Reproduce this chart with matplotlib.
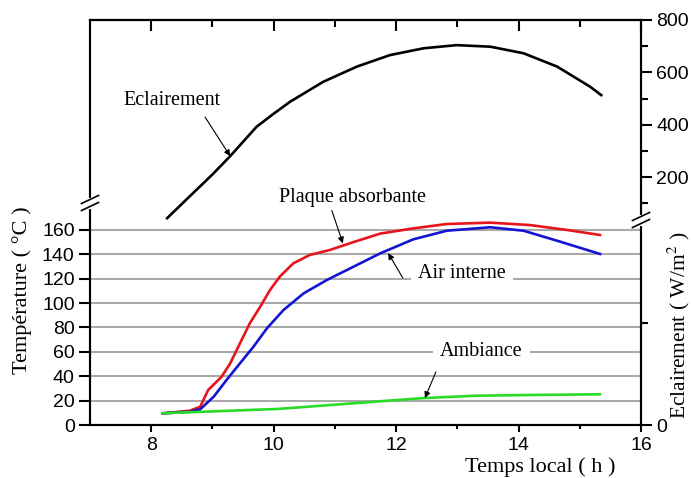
import numpy as np
import matplotlib
matplotlib.use("Agg")
import matplotlib.pyplot as plt

plt.rcParams['font.family'] = ['Liberation Sans', 'DejaVu Sans']
plt.rcParams['mathtext.fontset'] = 'stix'

# eclairement (W/m2)
h_ecl = [8.26, 8.6, 9.0, 9.29, 9.72, 10.0, 10.27, 10.81, 11.36, 11.90, 12.45, 12.99, 13.54, 14.08, 14.63, 15.17, 15.35]
ecl = [43, 120, 210, 280, 392, 442, 488, 564, 622, 666, 692, 704, 698, 673, 622, 545, 513]

# plaque absorbante (C)
h_plaque = [8.19, 8.63, 8.80, 8.93, 9.15, 9.29, 9.45, 9.61, 9.78, 9.94, 10.10, 10.32, 10.59, 10.92,
            11.3, 11.74, 12.28, 12.83, 13.54, 14.19, 14.79, 15.33]
t_plaque = [9.6, 11.7, 15, 28.7, 39.6, 50.6, 67, 83.4, 97, 110.7, 121.7, 132.6, 139.5, 143.6,
            150, 157, 161.3, 164.9, 166, 164, 160, 155.9]

# air interne
h_air = [8.19, 8.63, 8.80, 9.02, 9.23, 9.45, 9.67, 9.89, 10.16, 10.49, 10.87, 11.25, 11.74,
         12.28, 12.83, 13.54, 14.08, 14.68, 15.33]
t_air = [9.6, 10.8, 12.9, 23.2, 36.9, 50.6, 64.2, 79.3, 94.3, 108, 119, 128.5, 140.8,
         152.3, 159.4, 162.2, 159.4, 150.4, 140.3]

# ambiance
h_amb = [8.18, 8.80, 10.08, 11.25, 12.42, 13.29, 14.17, 15.33]
t_amb = [9.6, 10.8, 13.2, 17.6, 22, 24, 24.6, 25.2]

temp_ticks = [0, 20, 40, 60, 80, 100, 120, 140, 160]
ecl_ticks = [0, 200, 400, 600, 800]
x_ticks = [8, 10, 12, 14, 16]

serif = 'Liberation Serif'

fig = plt.figure(figsize=(6.93, 4.78), dpi=100)
ax = fig.add_axes([90/693, 1-425/478, 551/693, 405/478])
ax.set_xlim(7, 16)
ax.set_ylim(0, 405/1.219)

ax.set_yticks(temp_ticks)
ax.set_xticks(x_ticks)
ax.set_xticks([9, 11, 13, 15], minor=True)
ax.tick_params(axis='both', labelsize=14, width=1.5, length=8, pad=3, direction='out')
ax.tick_params(axis='x', length=5, pad=4)
ax.tick_params(axis='x', which='minor', length=3, width=1.5)
ax.grid(axis='y', color='#aaaaaa', lw=1.5)
ax.set_axisbelow(True)
for s in ax.spines.values():
    s.set_linewidth(1.5)

top = ax.secondary_xaxis('top')
top.set_xticks(x_ticks)
top.set_xticks([9, 11, 13, 15], minor=True)
top.tick_params(direction='in', length=8, width=1.5, labeltop=False)
top.tick_params(which='minor', direction='in', length=5, width=1.5)
top.spines['top'].set_linewidth(1.5)

# broken right axis
B = 36.0
def fwd(v):
    v = np.asarray(v, dtype=float)
    return np.where(v < B, v*205/B, 205 + (v-B)*200/(800-B))
def inv(p):
    p = np.asarray(p, dtype=float)
    return np.where(p < 205, p*B/205, B + (p-205)*(800-B)/200)

ax2 = ax.twinx()
ax2.set_yscale('function', functions=(fwd, inv))
ax2.set_ylim(0, 800)
ax2.set_yticks(ecl_ticks)
ax2.set_yticks([B/2, 100, 300, 500, 700], minor=True)
ax2.yaxis.set_minor_formatter(plt.NullFormatter())
ax2.tick_params(axis='y', labelsize=14, width=1.5, length=8, pad=3)
ax2.tick_params(axis='y', which='minor', width=1.5, length=5)
for s in ax2.spines.values():
    s.set_linewidth(1.5)

ax.plot(h_plaque, t_plaque, color='#e8141c', lw=1.9, zorder=3)
ax.plot(h_air, t_air, color='#1414d2', lw=1.9, zorder=3)
ax.plot(h_amb, t_amb, color='#28dc28', lw=1.9, zorder=3)
ax2.plot(h_ecl, ecl, color='black', lw=1.9)

# break marks
def brk(a, x, y):
    dx, dy, g = 8.5/551, 4/405, 3.5/405
    a.plot([x, x], [y-g, y+g], color='white', lw=3, transform=a.transAxes, clip_on=False, zorder=6)
    for yy in (y-g, y+g):
        a.plot([x-dx, x+dx], [yy-dy, yy+dy], color='black', lw=1.2, transform=a.transAxes,
               clip_on=False, zorder=7)
brk(ax2, 0, (425-203)/405)
brk(ax2, 1, (425-220)/405)

# labels
arw = dict(arrowstyle='-|>', color='black', lw=0.8, mutation_scale=9, shrinkA=0, shrinkB=0)
ax2.text(8.34, 494, 'Eclairement', family=serif, fontsize=14.5, ha='center', va='center')
ax2.annotate('', xy=(9.29, 280), xytext=(8.88, 429), arrowprops=arw)

ax.text(11.28, 187, 'Plaque absorbante', family=serif, fontsize=14.5, ha='center', va='center')
ax.annotate('', xy=(11.13, 149), xytext=(10.95, 176), arrowprops=arw)

ax.text(13.08, 123.9, 'Air interne', family=serif, fontsize=14.5, ha='center', va='center',
        bbox=dict(facecolor='white', edgecolor='none', boxstyle='square,pad=0.35'), zorder=4)
ax.annotate('', xy=(11.87, 141), xytext=(12.11, 120.6), arrowprops=arw, zorder=5)

ax.text(13.39, 60.7, 'Ambiance', family=serif, fontsize=14.5, ha='center', va='center',
        bbox=dict(facecolor='white', edgecolor='none', boxstyle='square,pad=0.35'), zorder=4)
ax.annotate('', xy=(12.47, 22.1), xytext=(12.65, 43.5), arrowprops=arw, zorder=5)

fig.text(22/693, 1-290/478, 'Température ( °C )', family=serif, fontsize=16,
         rotation=90, ha='center', va='center')
fig.text(679/693, 1-325/478, r'Eclairement ( W/m$^2$ )', family=serif, fontsize=15.5,
         rotation=90, ha='center', va='center')
fig.text(540/693, 1-467/478, 'Temps local ( h )', family=serif, fontsize=16,
         ha='center', va='center')

fig.savefig('out.png', dpi=100)
